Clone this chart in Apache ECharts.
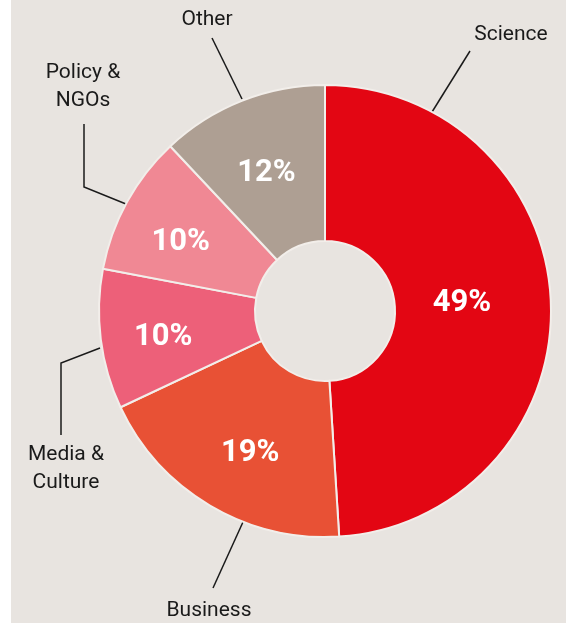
<!DOCTYPE html>
<html>
<head>
<meta charset="utf-8">
<script src="https://cdn.jsdelivr.net/npm/echarts@6/dist/echarts.min.js"></script>
<style>
    html, body { margin: 0; padding: 0; background: #ffffff; }
    #main { position: absolute; left: 11px; top: 0; width: 555px; height: 623px; background: #e8e4e0; }
</style>
</head>
<body>
<div id="main"></div>
<script>
// data
var categories = ['Science', 'Business', 'Media &\nCulture', 'Policy &\nNGOs', 'Other'];
var shares = [49, 19, 10, 10, 12];
var colors = ['#e30613', '#e85135', '#ed6079', '#f08894', '#ae9f93'];

// where the outside labels sit and how their lines run (chart pixels)
var labelSpots = [
    { x: 500, y: 35, line: [[421, 112], [459, 51], [459, 51]] },
    { x: 198, y: 611, line: [[232, 522], [202, 588], [202, 588]] },
    { x: 55, y: 469, line: [[89, 348], [50, 363], [50, 435]] },
    { x: 72, y: 87, line: [[115, 204], [73, 187], [73, 124]] },
    { x: 196, y: 20, line: [[231, 99], [201, 38], [201, 38]] }
];
// small nudges for the percentages inside the ring
var innerShift = [[-14, -3], [2, 12], [-12, 7], [-12, 4], [-3, 3]];

var myChart = echarts.init(document.getElementById('main'));

var pieData = categories.map(function (name, i) {
    return { name: name, value: shares[i], itemStyle: { color: colors[i] } };
});

var option = {
    backgroundColor: '#e8e4e0',
    animation: false,
    series: [
        {
            name: 'share',
            type: 'pie',
            center: [314, 311],
            radius: [70, 226],
            startAngle: 90,
            data: pieData,
            itemStyle: {
                borderColor: '#f2eeea',
                borderWidth: 2
            },
            label: {
                position: 'inside',
                formatter: '{c}%',
                color: '#ffffff',
                fontFamily: 'Roboto',
                fontWeight: 'bold',
                fontSize: 31
            },
            labelLine: { show: false },
            labelLayout: function (params) {
                var d = innerShift[params.dataIndex];
                return { dx: d[0], dy: d[1] };
            },
            emphasis: { disabled: true }
        },
        {
            name: 'names',
            type: 'pie',
            silent: true,
            center: [314, 311],
            radius: [70, 226],
            startAngle: 90,
            data: pieData.map(function (d) {
                return { name: d.name, value: d.value, itemStyle: { color: 'rgba(0,0,0,0)' } };
            }),
            itemStyle: { borderWidth: 0 },
            label: {
                formatter: '{b}',
                color: '#1a1a1a',
                fontFamily: 'Roboto',
                fontSize: 21,
                lineHeight: 28,
                align: 'center',
                overflow: 'none'
            },
            labelLine: {
                show: true,
                length: 4,
                length2: 4,
                lineStyle: { color: '#1a1a1a', width: 1.5 }
            },
            labelLayout: function (params) {
                var s = labelSpots[params.dataIndex];
                return {
                    x: s.x,
                    y: s.y,
                    align: 'center',
                    verticalAlign: 'middle',
                    labelLinePoints: s.line
                };
            },
            emphasis: { disabled: true }
        }
    ]
};
myChart.setOption(option);
</script>
</body>
</html>
